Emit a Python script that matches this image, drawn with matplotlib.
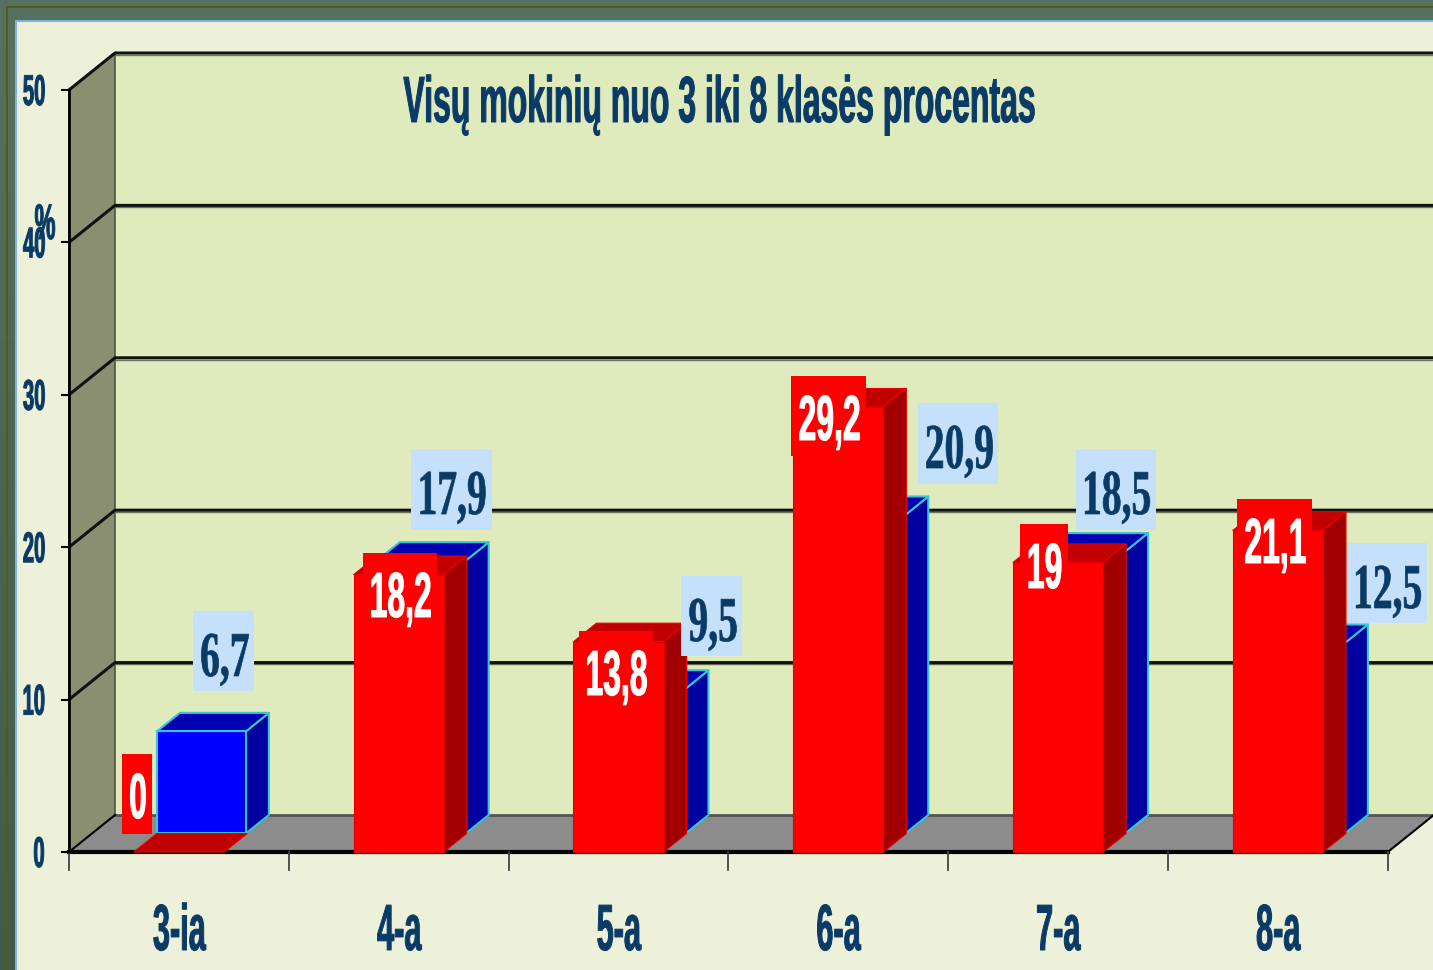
import matplotlib
matplotlib.use("Agg")
import matplotlib.pyplot as plt
from matplotlib.patches import Polygon, Rectangle
from matplotlib.text import Text
from matplotlib.textpath import TextPath
from matplotlib.transforms import Affine2D, Bbox, blended_transform_factory

# data
categories = ["3-ia", "4-a", "5-a", "6-a", "7-a", "8-a"]
red_values = [0, 18.2, 13.8, 29.2, 19, 21.1]
blue_values = [6.7, 17.9, 9.5, 20.9, 18.5, 12.5]
red_labels = ["0", "18,2", "13,8", "29,2", "19", "21,1"]
blue_labels = ["6,7", "17,9", "9,5", "20,9", "18,5", "12,5"]
y_ticks = [0, 10, 20, 30, 40, 50]

# label boxes in pixels (left, top, right, bottom)
red_boxes = [(122, 754, 152, 834), (363, 553, 437, 633), (579, 631, 653, 711),
             (791, 376, 866, 456), (1020, 524, 1068, 604), (1237, 499, 1312, 579)]
blue_boxes = [(193, 611, 254, 691), (411, 449, 492, 530), (681, 576, 742, 656),
              (918, 403, 998, 484), (1076, 449, 1156, 530), (1347, 543, 1427, 623)]

W, H = 1433, 970
X0, Y0 = 69, 852      # pixel position of x=0, y=0
XU, YU = 219.8, 15.24 # pixels per category / per percent
DX, DY = 46 / XU, 37 / YU  # full depth of the box in data units

NAVY = "#0a3b66"
SANS = "Liberation Sans"
SERIF = "Liberation Serif"


class NarrowText(Text):
    # no condensed font installed, so squeeze the glyphs sideways when drawing.
    # x is the ink centre, y the baseline
    def __init__(self, *args, squeeze=0.47, stroke=0.7, **kwargs):
        super().__init__(*args, **kwargs)
        self.squeeze = squeeze
        self.stroke = stroke

    def _outline(self):
        size = self.get_fontsize() * self.get_figure().dpi / 72
        path = TextPath((0, 0), self.get_text(), size=size, prop=self.get_fontproperties())
        ext = path.get_extents()
        x, y = self.get_transform().transform(self.get_position())
        aff = (Affine2D().translate(-(ext.x0 + ext.x1) / 2, 0)
               .scale(self.squeeze, 1).translate(x, y))
        return path, aff

    def draw(self, renderer):
        path, aff = self._outline()
        rgba = matplotlib.colors.to_rgba(self.get_color())
        gc = renderer.new_gc()
        gc.set_foreground(rgba)
        gc.set_linewidth(self.stroke)
        renderer.draw_path(gc, path, aff, rgba)
        gc.restore()

    def get_window_extent(self, renderer=None, dpi=None):
        path, aff = self._outline()
        return Bbox(path.transformed(aff).get_extents().get_points())


fig = plt.figure(figsize=((W + 0.01) / 100, (H + 0.01) / 100), dpi=100, facecolor="#edf1da")
ax = fig.add_axes([0, 0, 1, 1])
ax.set_xlim(-X0 / XU, (W - X0) / XU)
ax.set_ylim(-(H - Y0) / YU, Y0 / YU)
ax.axis("off")
px = Affine2D().scale(1, -1).translate(0, H)


def narrow(x, y, s, transform, size, color=NAVY, family=SANS, squeeze=0.47, stroke=0.7, z=2):
    ax.add_artist(NarrowText(x, y, s, transform=transform, fontsize=size, color=color,
                             family=family, weight="bold", squeeze=squeeze, stroke=stroke,
                             zorder=z))


def box3d(x, w, top, depth, front, side, roof, edge=None, lw=1.5, z=3):
    # front face plus right side and roof, pushed back by depth (0..1)
    b = DY * depth
    ox, oy = DX * 0.5, DY * 0.5
    kw = dict(zorder=z, joinstyle="round", ec=edge if edge else "none", lw=lw if edge else 0)
    ax.add_patch(Polygon([(x + w, b), (x + w + ox, b + oy), (x + w + ox, top + b + oy),
                          (x + w, top + b)], fc=side, **kw))
    ax.add_patch(Polygon([(x, top + b), (x + ox, top + b + oy), (x + w + ox, top + b + oy),
                          (x + w, top + b)], fc=roof, **kw))
    if top > 0:
        ax.add_patch(Rectangle((x, b), w, top, fc=front, **kw))


# frame
ax.add_patch(Rectangle((0, 0), W, 20, transform=px, fc="#56705f", ec="none", zorder=0))
for k in range(20):
    t = k / 19
    col = (0.337 - 0.09 * t, 0.439 - 0.08 * t, 0.373 - 0.08 * t)
    ax.add_patch(Rectangle((0, k * H / 20), 15, H / 20 + 1, transform=px, fc=col, ec="none", zorder=0))
ax.add_patch(Rectangle((6, 6), W, 1.6, transform=px, fc="#4d5e1a", ec="none", zorder=0.1))
ax.add_patch(Rectangle((6, 6), 1.6, H, transform=px, fc="#4d5e1a", ec="none", zorder=0.1))
ax.add_patch(Rectangle((15, 20), W, 2, transform=px, fc="#7db2dc", ec="none", zorder=0.1))
ax.add_patch(Rectangle((15, 20), 2, H, transform=px, fc="#7db2dc", ec="none", zorder=0.1))

# walls and floor
xmax = ax.get_xlim()[1] + 1
ax.add_patch(Polygon([(DX, DY), (xmax, DY), (xmax, 50 + DY), (DX, 50 + DY)],
                     fc="#e0ebbd", ec="none", zorder=1))
ax.add_patch(Polygon([(0, 0), (DX, DY), (DX, 50 + DY), (0, 50)],
                     fc="#8a8f72", ec="#3c3f30", lw=1, zorder=1))
ax.add_patch(Polygon([(0, 0), (6, 0), (6 + DX, DY), (DX, DY)],
                     fc="#8c8c8c", ec="none", zorder=1.2))

# gridlines follow the side wall then the back wall
for v in y_ticks[1:]:
    ax.plot([0, DX, xmax], [v, v + DY, v + DY], color="#111111", lw=2.2, zorder=1.5)
    ax.plot([DX, xmax], [v + DY - 0.12] * 2, color="#6d7258", lw=1, zorder=1.4)
ax.plot([DX, xmax], [DY, DY], color="#555555", lw=2, zorder=1.3)
ax.plot([0, 0], [0, 50], color="black", lw=2, zorder=2)
ax.plot([0, 6], [0, 0], color="black", lw=3, zorder=2)
ax.plot([0, DX], [0, DY], color="black", lw=1.5, zorder=1.5)
ax.plot([6, 6 + DX], [0, DY], color="black", lw=1.5, zorder=1.5)

# ticks
tr = blended_transform_factory(ax.transData, px)
for i in range(7):
    ax.plot([i, i], [Y0, 870], transform=tr, color="#444444", lw=1.3, zorder=2)
for v in y_ticks:
    ax.plot([-7 / XU, 0], [v, v], color="black", lw=1.5, zorder=2)
    narrow(-30 / XU if v == 0 else -35 / XU, v - 15 / YU, str(v), ax.transData, 31)
narrow(45, 239, "%", px, 36)

# bars
bar_left = 0.295
for i, cat in enumerate(categories):
    x = i + bar_left
    box3d(x + DX / 2, 0.405, blue_values[i], 0.5, "#0000ff", "#0000a0", "#0000b0",
          edge="#35c5d5", z=3 + i * 0.1)
    box3d(x, 0.41, red_values[i], 0, "#ff0000", "#a00000", "#c00000",
          edge="#e80000", lw=0.8, z=3.05 + i * 0.1)
    narrow(i + 0.504, 950, cat, tr, 47)

# value labels
for lab, b in zip(blue_labels, blue_boxes):
    ax.add_patch(Rectangle((b[0], b[1]), b[2] - b[0], b[3] - b[1], transform=px,
                           fc="#c5e0fa", ec="none", zorder=5))
    narrow((b[0] + b[2]) / 2 + 1.5, b[1] + 65, lab, px, 46, family=SERIF, squeeze=0.62, stroke=0.5, z=6)
for lab, b in zip(red_labels, red_boxes):
    ax.add_patch(Rectangle((b[0], b[1]), b[2] - b[0], b[3] - b[1], transform=px,
                           fc="#ff0000", ec="none", zorder=5))
    narrow((b[0] + b[2]) / 2 + 1, b[1] + 64, lab, px, 46, color="white", squeeze=0.5, z=6)

narrow(719, 122, "Visų mokinių nuo 3 iki 8 klasės procentas", px, 47, squeeze=0.49)

fig.savefig("out.png", dpi=100)
